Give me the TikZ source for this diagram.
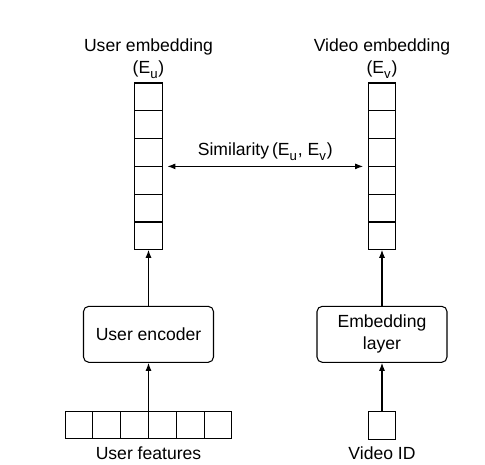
\documentclass[tikz,border=0pt]{standalone}
\usepackage{fontspec}
\setmainfont{Liberation Sans}
\usetikzlibrary{positioning,arrows.meta}
\newcommand{\lowsub}[1]{\raisebox{-0.55ex}{\fontsize{7.5}{8}\selectfont #1}\kern0.5pt}

\begin{document}
\begin{tikzpicture}[
  >={Latex[length=1.6mm, width=1.2mm]},
  font=\fontsize{10}{12.5}\selectfont,
  line width=0.6pt,
  node distance=1cm,
  cell/.style={draw, minimum width=0.556cm, minimum height=0.556cm, inner sep=0pt, outer sep=0pt},
  block/.style={draw, rounded corners=3pt, align=center, minimum width=2.6cm, minimum height=1.12cm, inner sep=2pt},
  flow/.style={->},
  lbl/.style={align=center, inner sep=1pt},
]
\useasboundingbox (0,0) rectangle (9.7,9.3);

% Embedding vectors
\foreach \i in {1,...,6} {
  \node[cell] (ue\i) at (2.97, {7.362-(\i-1)*0.556}) {};
  \node[cell] (ve\i) at (7.64, {7.362-(\i-1)*0.556}) {};
}
\node[lbl, above=0.04cm of ue1] (uelbl) {User embedding\\(E\lowsub{u})};
\node[lbl, above=0.04cm of ve1] (velbl) {Video embedding\\(E\lowsub{v})};

% Similarity
\draw[<->, shorten <=0.1cm, shorten >=0.1cm] (ue3.south east) -- node[lbl, above=2pt] {Similarity\,(E\lowsub{u}, E\lowsub{v})} (ve3.south west);

% Encoders
\node[block, below=1.12cm of ue6] (uenc) {User encoder};
\node[block, below=1.12cm of ve6] (vemb) {Embedding\\layer};

% Inputs
\foreach \i in {1,...,6} {
  \node[cell] (uf\i) at ({1.58+(\i-1)*0.556}, 0.8) {};
}
\node[cell, below=0.98cm of vemb] (vid) {};
\node[lbl, below=3pt of uf3.south east] (uflbl) {User features};
\node[lbl, below=3pt of vid] (vidlbl) {Video ID};

% Flow
\draw[flow] (uf3.north east) -- (uenc);
\draw[flow] (uenc) -- (ue6);
\draw[flow] (vid) -- (vemb);
\draw[flow] (vemb) -- (ve6);

\end{tikzpicture}
\end{document}
